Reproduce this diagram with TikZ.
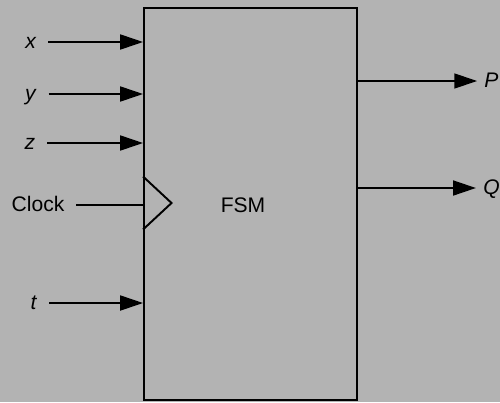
\documentclass[tikz,border=0pt]{standalone}
\usepackage{fontspec}
\setmainfont{Liberation Sans}
\usepackage{xcolor}
\usepackage{tikz}
\usetikzlibrary{positioning,arrows.meta}
\definecolor{bggray}{RGB}{179,179,179}

\begin{document}
\begin{tikzpicture}[
  font=\fontsize{12}{14}\selectfont,
  fsmbox/.style={rectangle, draw, line width=1.1pt, minimum width=4.26cm, minimum height=7.84cm, inner sep=0pt},
  lbl/.style={inner xsep=6.5pt, inner ysep=0pt, text height=1.5ex, text depth=0pt},
  outlbl/.style={lbl, inner xsep=4pt},
  sig/.style={-{Triangle[length=13pt,width=8.5pt]}, line width=1.1pt},
  wire/.style={line width=1.1pt},
  clk/.style={line width=1.1pt, line join=miter}
]
\fill[bggray] (0,0) rectangle (10,8.04);
\useasboundingbox (0,0) rectangle (10,8.04);
% block
\node[fsmbox] (fsm) at (5.01,3.96) {};
\node (name) at (4.86,3.94) {FSM};
% inputs
\node[lbl] (x)     at (0.62,7.20) {\textit{x}};
\node[lbl] (y)     at (0.62,6.16) {\textit{y}};
\node[lbl] (z)     at (0.60,5.18) {\textit{z}};
\node[lbl] (clock) at (0.76,3.94) {Clock};
\node[lbl] (t)     at (0.68,1.98) {\textit{t}};
% outputs
\node[outlbl] (P) at (9.83,6.42) {\textit{P}};
\node[outlbl] (Q) at (9.83,4.28) {\textit{Q}};
% wires
\draw[sig] (x.east) -- (x.east -| fsm.west);
\draw[sig] (y.east) -- (y.east -| fsm.west);
\draw[sig] (z.east) -- (z.east -| fsm.west);
\draw[sig] (t.east) -- (t.east -| fsm.west);
\draw[wire] (clock.east) -- (clock.east -| fsm.west);
\draw[sig] (P.west -| fsm.east) -- (P.west);
\draw[sig] (Q.west -| fsm.east) -- (Q.west);
% clock input
\coordinate (ck) at (clock.east -| fsm.west);
\draw[clk] ([yshift=0.57cm]ck) -- ([xshift=0.57cm,yshift=0.04cm]ck) -- ([yshift=-0.49cm]ck);
\end{tikzpicture}
\end{document}
